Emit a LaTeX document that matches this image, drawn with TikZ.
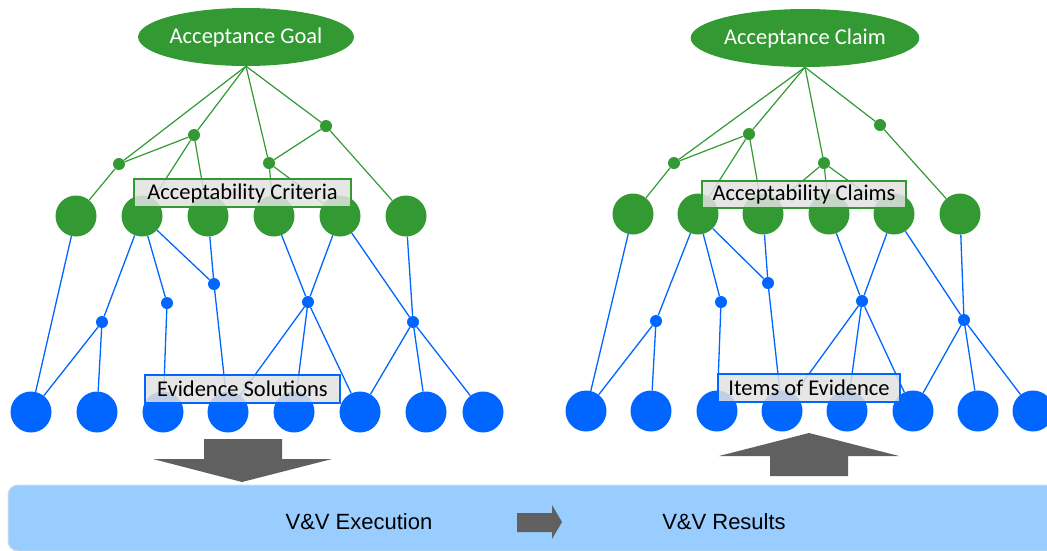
\documentclass[tikz,border=0pt]{standalone}
\usepackage{fontspec}
\setmainfont{Carlito}
\newfontfamily\arialfont{Liberation Sans}
\usetikzlibrary{shapes.geometric}
\definecolor{ggreen}{HTML}{339933}
\definecolor{bblue}{HTML}{0066FF}
\definecolor{agray}{HTML}{606060}
\definecolor{barblue}{HTML}{99CCFF}
\definecolor{barline}{HTML}{C8DDF0}
\definecolor{boxfill}{HTML}{E2E2E2}
\begin{document}
\begin{tikzpicture}[x=1pt,y=-1pt,
  goalnode/.style={ellipse, fill=ggreen, text=white, minimum width=207pt, minimum height=58pt, inner sep=0pt, font=\fontsize{22.5}{26}\selectfont},
  gdot/.style={circle, fill=ggreen, minimum size=12pt, inner sep=0pt},
  gbig/.style={circle, fill=ggreen, minimum size=41pt, inner sep=0pt},
  bdot/.style={circle, fill=bblue, minimum size=12pt, inner sep=0pt},
  bbig/.style={circle, fill=bblue, minimum size=41pt, inner sep=0pt},
  gline/.style={draw=ggreen, line width=1.2pt},
  bline/.style={draw=bblue, line width=1.3pt},
  lbl/.style={rectangle, line width=2pt, fill=boxfill, fill opacity=0.85, text opacity=1, inner sep=0pt, font=\fontsize{22.5}{26}\selectfont},
  arrowshape/.style={fill=agray},
  bartext/.style={font=\arialfont\fontsize{22}{26}\selectfont}
]
\useasboundingbox (0,0) rectangle (1047,550);
\clip (0,0) rectangle (1047,550);

% ---------- bottom bar ----------
\draw[fill=barblue, draw=barline, line width=1pt, rounded corners=10pt] (8,485) rectangle (1070,551);
\node[bartext] (exe) at (359,522) {V\&V Execution};
\node[bartext] (res) at (724,522) {V\&V Results};
\fill[arrowshape] (517,513) -- (552,513) -- (552,505) -- (562,522) -- (552,539) -- (552,532) -- (517,532) -- cycle;
\fill[arrowshape] (204,439) -- (282,439) -- (282,459) -- (332,459) -- (242,482) -- (153,459) -- (204,459) -- cycle;
\fill[arrowshape] (770,476) -- (848,476) -- (848,456) -- (899,456) -- (809,433) -- (719,456) -- (770,456) -- cycle;

% ---------- left tree ----------
\node[goalnode] (LGoal) at (246,37) {Acceptance Goal};
\node[gdot] (Ld1) at (119,164) {};
\node[gdot] (Ld2) at (194,135) {};
\node[gdot] (Ld3) at (269,163) {};
\node[gdot] (Ld4) at (326,126) {};
\foreach \x [count=\i] in {76,142,208,274,340,406} \node[gbig] (LG\i) at (\x,216) {};
\node[bdot] (Lb1) at (102,322) {};
\node[bdot] (Lb2) at (167,303) {};
\node[bdot] (Lb3) at (214,284) {};
\node[bdot] (Lb4) at (308,302) {};
\node[bdot] (Lb5) at (413,322) {};
\foreach \x [count=\i] in {31,97,163,228,294,360,426,483} \node[bbig] (LB\i) at (\x,412) {};

\foreach \a/\b in {LGoal.south/Ld1, LGoal.south/Ld2, LGoal.south/Ld3, LGoal.south/Ld4, Ld2/Ld1, Ld1/LG1, Ld2/LG2, Ld2/LG3, Ld3/Ld4, Ld3/LG4, Ld3/LG5, Ld4/LG6}
  \draw[gline] (\a) -- (\b);
\foreach \a/\b in {LG1/LB1, LG2/Lb1, Lb1/LB1, Lb1/LB2, LG2/Lb2, Lb2/LB3, LG2/Lb3, LG3/Lb3, Lb3/LB4, LG4/Lb4, LG5/Lb4, Lb4/LB4, Lb4/LB5, Lb4/LB6, LG5/Lb5, LG6/Lb5, Lb5/LB6, Lb5/LB7, Lb5/LB8}
  \draw[bline] (\a) -- (\b);

% ---------- right tree ----------
\node[goalnode] (RGoal) at (805,38) {Acceptance Claim};
\node[gdot] (Rd1) at (674,163) {};
\node[gdot] (Rd2) at (749,134) {};
\node[gdot] (Rd3) at (824,163) {};
\node[gdot] (Rd4) at (880,125) {};
\foreach \x [count=\i] in {633,698,763,829,894,960} \node[gbig] (RG\i) at (\x,214) {};
\node[bdot] (Rb1) at (656,321) {};
\node[bdot] (Rb2) at (721,302) {};
\node[bdot] (Rb3) at (768,283) {};
\node[bdot] (Rb4) at (862,301) {};
\node[bdot] (Rb5) at (964,320) {};
\foreach \x [count=\i] in {586,651,717,782,847,913,978,1033} \node[bbig] (RB\i) at (\x,411) {};

\foreach \a/\b in {RGoal.south/Rd1, RGoal.south/Rd2, RGoal.south/Rd3, RGoal.south/Rd4, Rd2/Rd1, Rd1/RG1, Rd2/RG2, Rd2/RG3, Rd3/RG3, Rd3/RG4, Rd3/RG5, Rd4/RG6}
  \draw[gline] (\a) -- (\b);
\foreach \a/\b in {RG1/RB1, RG2/Rb1, Rb1/RB1, Rb1/RB2, RG2/Rb2, Rb2/RB3, RG2/Rb3, RG3/Rb3, Rb3/RB4, RG4/Rb4, RG5/Rb4, Rb4/RB4, Rb4/RB5, Rb4/RB6, RG5/Rb5, RG6/Rb5, Rb5/RB6, Rb5/RB7, Rb5/RB8}
  \draw[bline] (\a) -- (\b);

% ---------- labels ----------
\node[lbl, draw=ggreen, minimum width=217pt, minimum height=28pt] (LCrit) at (242.5,193) {Acceptability Criteria};
\node[lbl, draw=ggreen, minimum width=204pt, minimum height=27pt] (RCrit) at (804,194.5) {Acceptability Claims};
\node[lbl, draw=bblue, minimum width=195pt, minimum height=28pt] (LEvid) at (242.5,389) {Evidence Solutions};
\node[lbl, draw=bblue, minimum width=182pt, minimum height=28pt] (REvid) at (809,388) {Items of Evidence};
\end{tikzpicture}
\end{document}
